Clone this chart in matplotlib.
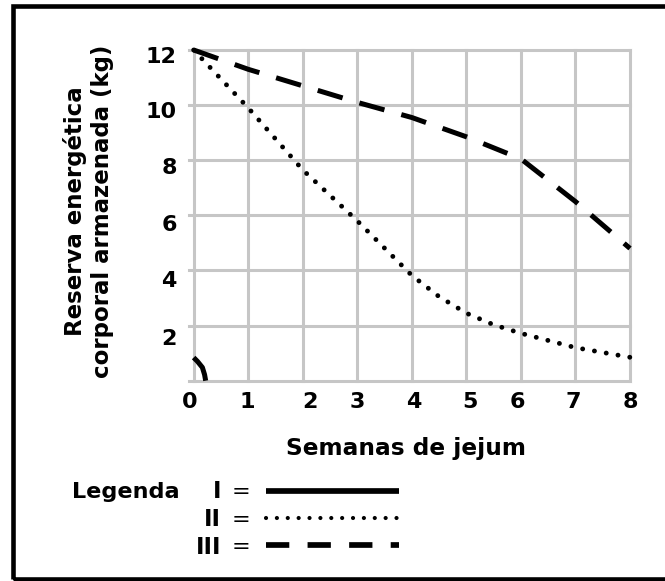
import matplotlib
matplotlib.use("Agg")
import matplotlib.pyplot as plt
from matplotlib.lines import Line2D
from matplotlib.patches import Rectangle

# ---------------- data ----------------
weeks_I = [0, 0.07, 0.16, 0.2, 0.22]
reserve_I = [0.84, 0.7, 0.48, 0.22, 0.0]

weeks_II = [0, 1, 2, 3, 4, 4.5, 5, 5.5, 6, 7, 8]
reserve_II = [12, 9.9, 7.65, 5.8, 3.82, 3.05, 2.45, 2.03, 1.72, 1.2, 0.85]

weeks_III = [0, 1, 2, 3, 4, 5, 6, 7, 8]
reserve_III = [12, 11.3, 10.7, 10.1, 9.55, 8.85, 8.05, 6.5, 4.8]

x_ticks = [0, 1, 2, 3, 4, 5, 6, 7, 8]
x_ticklabels = ["0", "1", "2", "3", "4", "5", "6", "7", "8"]
y_ticks = [12, 10, 8, 6, 4, 2]
y_ticklabels = ["12", "10", "8", "6", "4", "2"]
y_grid = [0, 2, 4, 6, 8, 10, 12]

xlabel = "Semanas de jejum"
ylabel_1 = "Reserva energética"
ylabel_2 = "corporal armazenada (kg)"
legend_title = "Legenda"
legend_names = ["I", "II", "III"]

# ---------------- layout ----------------
W, H = 665, 581
FONT = "DejaVu Sans"
plt.rcParams["font.family"] = [FONT]
plt.rcParams["font.weight"] = "bold"

fig = plt.figure(figsize=(W / 100, H / 100), dpi=100)
fig.patch.set_facecolor("white")


def fx(px):
    return px / W


def fy(py):
    return 1 - py / H


ax_l, ax_r, ax_t, ax_b = 189.3, 630.0, 50.0, 380.7
ax = fig.add_axes([fx(ax_l), fy(ax_b), (ax_r - ax_l) / W, (ax_b - ax_t) / H])
ax.set_xlim(0, 8)
ax.set_ylim(0, 12)

GRID = "#c6c6c6"
for s in ax.spines.values():
    s.set_visible(False)
for xv in x_ticks:
    ax.axvline(xv, color=GRID, lw=2.2, clip_on=False, zorder=1,
               solid_capstyle="projecting")
for yv in y_grid:
    ax.axhline(yv, color=GRID, lw=2.2, clip_on=False, zorder=1,
               solid_capstyle="projecting")

# tick labels (slightly displaced as in the reference)
x_nudge = [-0.08, -0.02, 0.13, 0.0, 0.04, 0.06, -0.06, -0.04, 0.0]
y_nudge = [-0.18, -0.18, -0.21, -0.27, -0.31, -0.40]
ax.set_xticks([t + n for t, n in zip(x_ticks, x_nudge)], x_ticklabels)
ax.set_yticks([t + n for t, n in zip(y_ticks, y_nudge)], y_ticklabels)
ax.tick_params(which="both", length=0)
ax.tick_params(axis="x", pad=8, labelsize=16)
ax.tick_params(axis="y", pad=9, labelsize=16)
for lab in ax.get_xticklabels() + ax.get_yticklabels():
    lab.set_fontweight("bold")

# data lines
ax.plot(weeks_I, reserve_I, color="black", lw=3.6, solid_capstyle="butt",
        clip_on=False, zorder=3)
ax.plot(weeks_II, reserve_II, color="black", lw=3.5, dashes=(0.01, 2.45),
        dash_capstyle="round", clip_on=False, zorder=3)
ax.plot(weeks_III, reserve_III, color="black", lw=3.6, dashes=(5.2, 3.5),
        dash_capstyle="butt", clip_on=False, zorder=3)

# texts
t_x = fig.text(fx(406), fy(448), xlabel, ha="center", va="center",
               fontsize=14, fontweight="bold")
t_y1 = fig.text(fx(75), fy(211), ylabel_1, ha="center", va="center",
                rotation=90, fontsize=14, fontweight="bold")
t_y2 = fig.text(fx(103), fy(211), ylabel_2, ha="center", va="center",
                rotation=90, fontsize=14, fontweight="bold")
t_leg = fig.text(fx(126), fy(492), legend_title, ha="center", va="center",
                 fontsize=14, fontweight="bold")

fig.canvas.draw()
r = fig.canvas.get_renderer()


def fit(t, target, dim="w"):
    bb = t.get_window_extent(r)
    cur = bb.width if dim == "w" else bb.height
    t.set_fontsize(t.get_fontsize() * target / cur)


fit(t_x, 240)
fit(t_y2, 335, "h")
t_y1.set_fontsize(t_y2.get_fontsize())
fit(t_leg, 108)

# legend rows
name_y = [492, 520, 547]
line_y = [491, 518.3, 544.5]
styles = [dict(lw=4.1, solid_capstyle="butt"),
          dict(lw=3.0, dashes=(0.01, 2.6), dash_capstyle="round"),
          dict(lw=4.1, dashes=(4.09, 3.21), dash_capstyle="butt")]
for name, ny, ly, st in zip(legend_names, name_y, line_y, styles):
    fig.text(fx(221), fy(ny), name, ha="right", va="center",
             fontsize=16.5, fontweight="bold")
    fig.text(fx(241), fy(ny), "=", ha="center", va="center",
             fontsize=t_leg.get_fontsize(), fontweight="normal")
    fig.add_artist(Line2D([fx(266), fx(399)], [fy(ly), fy(ly)],
                          transform=fig.transFigure, color="black", **st))

# outer frame (open on the right side)
fig.add_artist(Rectangle((fx(12.5), fy(579)), (700 - 12.5) / W, (579 - 6) / H,
                         transform=fig.transFigure, fill=False,
                         ec="black", lw=3.3))

fig.savefig("out.png", dpi=100, facecolor="white")
